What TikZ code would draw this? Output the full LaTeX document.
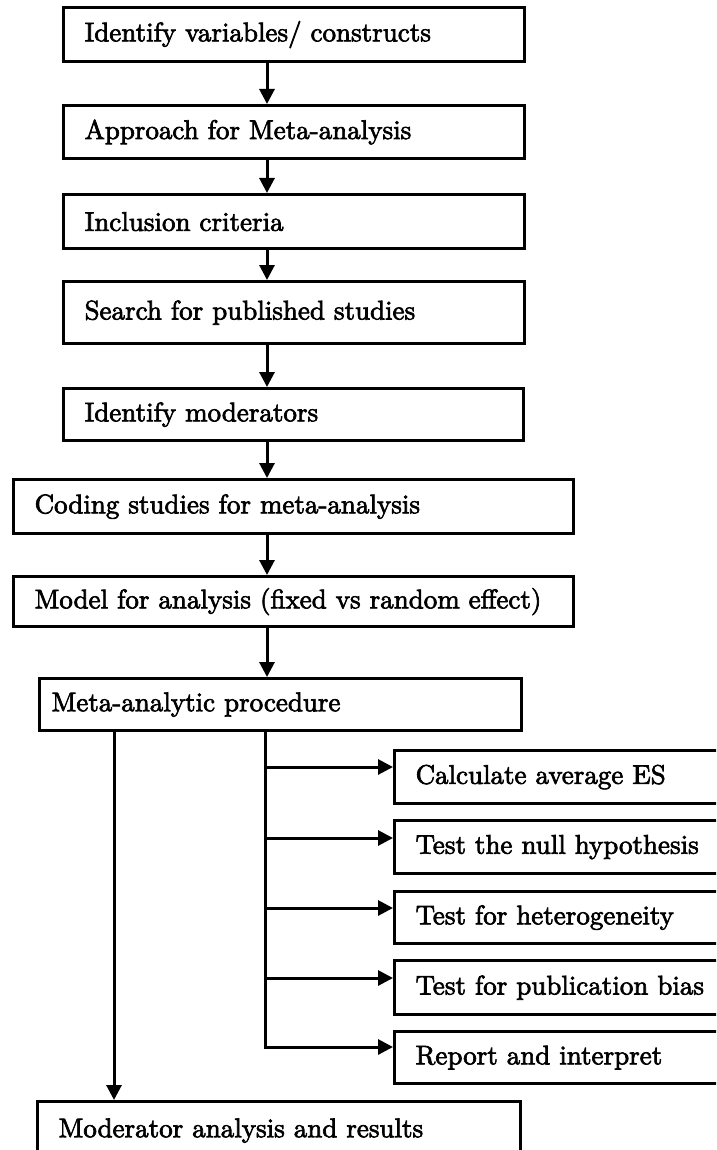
\documentclass[tikz,border=0pt]{standalone}
\usepackage{fontspec}
\setmainfont{lmroman10-regular}[Extension=.otf, FakeBold=2.5]
\usetikzlibrary{arrows.meta}
\tikzset{
  box/.style={draw, line width=3.2pt, anchor=north west, inner xsep=21pt, inner ysep=0pt,
    align=left, font=\fontsize{27}{32}\selectfont},
  arr/.style={line width=3pt, -{Triangle[length=15pt,width=15pt]}},
}
\begin{document}
\begin{tikzpicture}[x=1pt,y=-1pt]
\useasboundingbox (0,0) rectangle (716,1150);
\fill[white] (0,0) rectangle (716,1150);
\clip (0,0) rectangle (716,1150);
% main column
\node[box, minimum width=461pt, minimum height=54pt, text width=419pt] (b1) at (62,6) {Identify variables/ constructs};
\node[box, minimum width=461pt, minimum height=53pt, text width=419pt] (b2) at (62,104) {Approach for Meta-analysis};
\node[box, minimum width=461pt, minimum height=54pt, text width=419pt] (b3) at (62,193) {Inclusion criteria};
\node[box, minimum width=461pt, minimum height=62pt, text width=419pt] (b4) at (62,280) {Search for published studies};
\node[box, minimum width=460pt, minimum height=52pt, text width=418pt] (b5) at (62,387) {Identify moderators};
\node[box, minimum width=560pt, minimum height=54pt, text width=518pt] (b6) at (12,478) {Coding studies for meta-analysis};
\node[box, minimum width=560pt, minimum height=50pt, text width=518pt] (b7) at (12,575) {Model for analysis (fixed vs random effect)};
\node[box, minimum width=482pt, minimum height=52pt, inner xsep=12pt, text width=458pt] (b8) at (38,677) {Meta-analytic procedure};
% right branch boxes (run off the page on the right)
\node[box, minimum width=400pt, minimum height=53pt, text width=358pt] (b9) at (393,749) {Calculate average ES};
\node[box, minimum width=400pt, minimum height=53pt, text width=358pt] (b10) at (393,819) {Test the null hypothesis};
\node[box, minimum width=400pt, minimum height=52pt, text width=358pt] (b11) at (393,890) {Test for heterogeneity};
\node[box, minimum width=400pt, minimum height=54pt, text width=358pt] (b12) at (393,959) {Test for publication bias};
\node[box, minimum width=400pt, minimum height=52pt, text width=358pt] (b13) at (393,1030) {Report and interpret};
% moderator box (bottom cut off)
\node[box, minimum width=483pt, minimum height=58pt, text width=441pt] (b14) at (36,1100) {Moderator analysis and results};
% connector guides
\coordinate (mx) at (267,0);
\coordinate (lx) at (114,0);
\coordinate (rx) at (265,0);
\draw[arr] (b1.south -| mx) -- (b2.north -| mx);
\draw[arr] (b2.south -| mx) -- (b3.north -| mx);
\draw[arr] (b3.south -| mx) -- (b4.north -| mx);
\draw[arr] (b4.south -| mx) -- (b5.north -| mx);
\draw[arr] (b5.south -| mx) -- (b6.north -| mx);
\draw[arr] (b6.south -| mx) -- (b7.north -| mx);
\draw[arr] (b7.south -| mx) -- (b8.north -| mx);
\draw[arr] (b8.south -| lx) -- (b14.north -| lx);
\coordinate (r9) at (265,767);
\coordinate (r10) at (265,838);
\coordinate (r11) at (265,908);
\coordinate (r12) at (265,978);
\coordinate (r13) at (265,1047);
\draw[arr] (b8.south -| rx) -- (r13) -- (r13 -| b13.west);
\draw[arr] (r9) -- (r9 -| b9.west);
\draw[arr] (r10) -- (r10 -| b10.west);
\draw[arr] (r11) -- (r11 -| b11.west);
\draw[arr] (r12) -- (r12 -| b12.west);
\end{tikzpicture}
\end{document}
